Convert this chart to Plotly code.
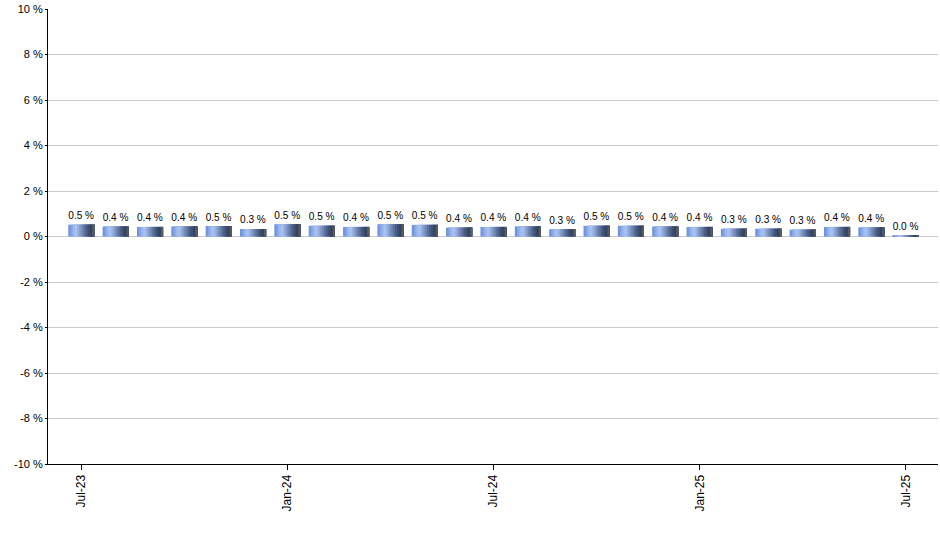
import plotly.graph_objects as go

months = ["Jul-23", "Aug-23", "Sep-23", "Oct-23", "Nov-23", "Dec-23",
          "Jan-24", "Feb-24", "Mar-24", "Apr-24", "May-24", "Jun-24",
          "Jul-24", "Aug-24", "Sep-24", "Oct-24", "Nov-24", "Dec-24",
          "Jan-25", "Feb-25", "Mar-25", "Apr-25", "May-25", "Jun-25",
          "Jul-25"]
values = [0.52, 0.44, 0.42, 0.44, 0.46, 0.33, 0.54, 0.47, 0.42, 0.54,
          0.51, 0.39, 0.42, 0.44, 0.32, 0.47, 0.47, 0.44, 0.42, 0.34,
          0.34, 0.30, 0.42, 0.40, 0.04]
tick_months = ["Jul-23", "Jan-24", "Jul-24", "Jan-25", "Jul-25"]
y_ticks = [-10, -8, -6, -4, -2, 0, 2, 4, 6, 8, 10]
y_tick_labels = ["-10 %", "-8 %", "-6 %", "-4 %", "-2 %", "0 %",
                 "2 %", "4 %", "6 %", "8 %", "10 %"]

# horizontal shading of each bar, left to right
shades = ["#6f93dc", "#86a7e8", "#9cb9ef", "#a9c2f0", "#9bb2e0", "#859cca",
          "#7087b4", "#5c729d", "#4a5e86", "#3c4e72", "#33445f", "#5a5a5a"]
bar_w = 0.76
n = len(shades)
slice_w = bar_w / n

fig = go.Figure()
for i, c in enumerate(shades):
    fig.add_trace(go.Bar(
        x=months, y=values,
        width=bar_w - i * slice_w,
        offset=-bar_w / 2 + i * slice_w,
        marker=dict(color=c, line=dict(width=0)),
        hoverinfo="skip",
        showlegend=False,
    ))

fig.add_trace(go.Bar(
    x=months, y=values,
    width=bar_w,
    marker=dict(color="rgba(0,0,0,0)", line=dict(width=0)),
    text=[f"{v:.1f} %" for v in values],
    textposition="outside",
    textfont=dict(family="Liberation Sans, Arial", size=12, color="#000000"),
    cliponaxis=False,
    showlegend=False,
))

fig.update_layout(
    width=940, height=550,
    margin=dict(l=48, r=2, t=9, b=86),
    plot_bgcolor="white",
    paper_bgcolor="white",
    barmode="overlay",
    font=dict(family="Liberation Sans, Arial", size=11, color="#000000"),
    xaxis=dict(
        type="category",
        categoryorder="array", categoryarray=months,
        range=[-0.97, 24.94],
        tickmode="array", tickvals=tick_months, ticktext=tick_months,
        tickangle=-90,
        tickfont=dict(size=12),
        ticks="outside", ticklen=5, tickcolor="black",
        showline=True, linecolor="black", linewidth=1,
        showgrid=False,
        automargin=False,
    ),
    yaxis=dict(
        range=[-10, 10],
        tickmode="array", tickvals=y_ticks, ticktext=y_tick_labels,
        ticks="outside", ticklen=2, tickcolor="black",
        showline=True, linecolor="black", linewidth=1,
        showgrid=True, gridcolor="#c8c8c8", gridwidth=1,
        zeroline=True, zerolinecolor="#c8c8c8", zerolinewidth=1,
        automargin=False,
        ticklabeloverflow="allow",
    ),
)

fig.write_html("out.html", config={"displayModeBar": False},
               post_script="document.body.style.margin='0';")
